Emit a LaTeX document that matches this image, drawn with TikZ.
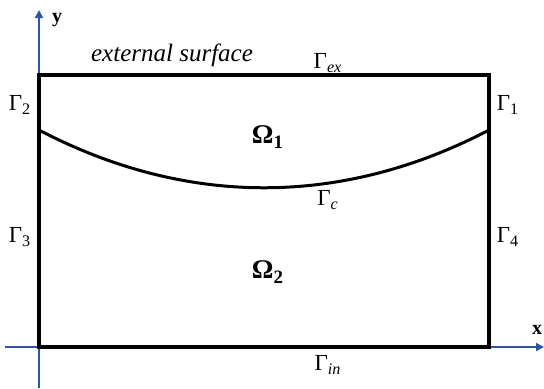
\documentclass[tikz,border=0pt]{standalone}
\usepackage{fontspec}
\setmainfont{Liberation Serif}[ItalicFont={Liberation Serif Italic},BoldFont={Liberation Serif Bold}]
\usepackage{tikz}
\usetikzlibrary{positioning,arrows.meta,calc}
\definecolor{axisblue}{RGB}{47,84,165}
\newcommand{\gsub}[2]{#1\textsubscript{#2}}

\begin{document}
\begin{tikzpicture}[x=0.5pt,y=-0.5pt,
        lbl/.style={inner sep=0pt, font=\fontsize{11.5}{13}\selectfont},
        dom/.style={inner sep=0pt, font=\fontsize{13.5}{15}\selectfont\bfseries},
        axis/.style={-{Triangle[length=4pt,width=4pt]}, axisblue, line width=0.9pt},
        wall/.style={line width=2pt, black}
      ]
        \useasboundingbox (0,0) rectangle (544,388);
        % axes
        \coordinate (o) at (39,347);
        \coordinate (ybot) at (39,388);
        \coordinate (ytop) at (39,10);
        \coordinate (xleft) at (5,347);
        \coordinate (xright) at (544,347);
        \draw[axis] (ybot)--(ytop);
        \draw[axis] (xleft)--(xright);
        \node[lbl, font=\fontsize{10}{12}\selectfont\bfseries] (ylab) at (57,20) {y};
        \node[lbl, font=\fontsize{10}{12}\selectfont\bfseries] (xlab) at (537,330) {x};
        % domain
        \draw[wall] (39,75) rectangle (489,347);
        \draw[line width=1.5pt] (39,130) .. controls (186,207) and (342,207) .. (489,130);
        % labels
        \node[lbl, font=\fontsize{12.5}{14}\selectfont\itshape] (ext) at (172,55) {external surface};
        \node[lbl] (gex) at (328,63) {\gsub{Γ}{\itshape ex}};
        \node[lbl] (g2) at (20,105) {\gsub{Γ}{2}};
        \node[lbl] (g1) at (508,105) {\gsub{Γ}{1}};
        \node[lbl] (g3) at (20,237) {\gsub{Γ}{3}};
        \node[lbl] (g4) at (508,237) {\gsub{Γ}{4}};
        \node[lbl] (gc) at (328,200) {\gsub{Γ}{\itshape c}};
        \node[lbl] (gin) at (328,365) {\gsub{Γ}{\itshape in}};
        \node[dom] (om1) at (268,137) {\gsub{Ω}{1}};
        \node[dom] (om2) at (268,272) {\gsub{Ω}{2}};
      \end{tikzpicture}
\end{document}
